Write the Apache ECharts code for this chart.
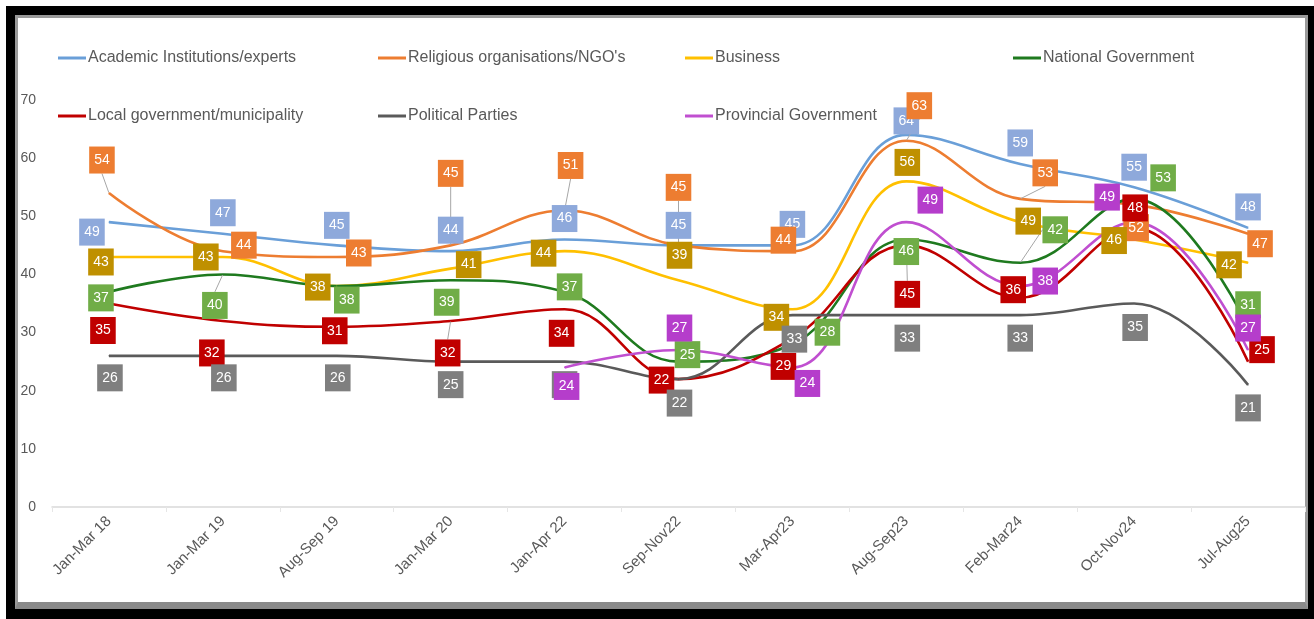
<!DOCTYPE html>
<html>
<head>
<meta charset="utf-8">
<script src="https://cdn.jsdelivr.net/npm/echarts@6/dist/echarts.min.js"></script>
<style>
  html, body { margin: 0; padding: 0; background: #ffffff; }
  #wrap { position: relative; width: 1314px; height: 619px; overflow: hidden; background: #fff; }
  #frame { position: absolute; left: 6px; top: 6px; width: 1308px; height: 613px; background: #000; }
  #panel { position: absolute; left: 15px; top: 15px; width: 1287px; height: 584px; background: #fff;
           border: 3px solid #9a9a9a; border-bottom: 7px solid #8a8a8a; box-sizing: content-box; }
  #chart { position: absolute; left: 0; top: 0; width: 1314px; height: 619px; }
</style>
</head>
<body>
<div id="wrap">
  <div id="frame"></div>
  <div id="panel"></div>
  <div id="chart"></div>
</div>
<script>
// ---------- DATA ----------
const categories = ['Jan-Mar 18', 'Jan-Mar 19', 'Aug-Sep 19', 'Jan-Mar 20', 'Jan-Apr 22', 'Sep-Nov22',
                    'Mar-Apr23', 'Aug-Sep23', 'Feb-Mar24', 'Oct-Nov24', 'Jul-Aug25'];
const seriesNames = ['Academic Institutions/experts', "Religious organisations/NGO's", 'Business',
                     'National Government', 'Local government/municipality', 'Political Parties',
                     'Provincial Government'];
const academic   = [49, 47, 45, 44, 46, 45, 45, 64, 59, 55, 48];
const religious  = [54, 44, 43, 45, 51, 45, 44, 63, 53, 52, 47];
const business   = [43, 43, 38, 41, 44, 39, 34, 56, 49, 46, 42];
const national   = [37, 40, 38, 39, 37, 25, 28, 46, 42, 53, 31];
const local      = [35, 32, 31, 32, 34, 22, 29, 45, 36, 48, 25];
const political  = [26, 26, 26, 25, 25, 22, 33, 33, 33, 35, 21];
const provincial = [null, null, null, null, 24, 27, 24, 49, 38, 49, 27];
const yTicks = { min: 0, max: 70, interval: 10 };

// ---------- STYLE / LAYOUT (kept apart from the values) ----------
const lineColors  = ['#6A9FD8', '#ED7D31', '#FFC000', '#1F7A1F', '#C00000', '#5A5A5A', '#C04FD0'];
const boxColors   = ['#8EA9DB', '#ED7D31', '#BF9000', '#70AD47', '#C00000', '#7F7F7F', '#B53DCB'];
// label displacement (px) relative to the data point, per series
const labelShift = [
  [[-17,10],[0,-21],[0,-20],[0,-21],[0,-21],[0,-20],[0,-21],[0,-14],[0,-21],[0,-20],[0,-21]],
  [[-7,-33],[21,-6],[22,-4],[0,-72],[6,-45],[0,-58],[-9,-11],[13,-35],[25,-26],[2,23],[12,10]],
  [[-8,5],[-17,0],[-19,1],[18,-4],[-21,2],[1,-25],[-16,8],[1,-19],[8,-1],[-20,1],[-19,2]],
  [[-8,6],[-8,31],[10,14],[-4,22],[5,-5],[9,-7],[35,-12],[0,12],[35,-33],[29,-21],[0,-22]],
  [[-6,27],[-11,32],[-2,4],[-3,32],[-3,24],[-17,1],[-9,28],[1,49],[-7,-8],[1,-20],[14,-12]],
  [[1,22],[1,22],[1,22],[0,23],[0,23],[1,24],[2,24],[1,23],[0,23],[1,24],[0,23]],
  [[0,0],[0,0],[0,0],[0,0],[2,19],[1,-22],[15,16],[24,-22],[25,-5],[-27,-25],[0,-22]]
];
// which labels show a leader line
const leaderLines = [
  [], [0, 3, 4, 5, 7, 8], [], [1, 8], [3, 7], [], []
];
const legendPos = [
  [58, 50], [378, 50], [685, 50], [1013, 50],
  [58, 108], [378, 108], [685, 108]
];

const values = [academic, religious, business, national, local, political, provincial];
const FONT = 'Liberation Sans, Arial, sans-serif';

const chart = echarts.init(document.getElementById('chart'), null, { renderer: 'canvas' });

const series = values.map((vals, si) => ({
  name: seriesNames[si],
  type: 'line',
  smooth: 0.4,
  symbol: 'circle',
  symbolSize: 1,
  showSymbol: true,
  connectNulls: false,
  itemStyle: { color: lineColors[si] },
  lineStyle: { color: lineColors[si], width: 2.6 },
  emphasis: { disabled: true },
  label: {
    show: true,
    position: 'inside',
    color: '#ffffff',
    fontFamily: FONT,
    fontSize: 14,
    backgroundColor: boxColors[si],
    padding: [6, 5, 6, 5],
    lineHeight: 15,
    formatter: p => (p.value == null ? '' : String(p.value))
  },
  labelLine: { show: false, lineStyle: { color: '#a6a6a6', width: 1 } },
  labelLayout: params => {
    const s = labelShift[si][params.dataIndex] || [0, 0];
    return { dx: s[0], dy: s[1] };
  },
  data: vals.map((v, di) => {
    const item = { value: v == null ? '-' : v };
    if (leaderLines[si].indexOf(di) >= 0) {
      item.labelLine = { show: true, lineStyle: { color: '#a6a6a6', width: 1 } };
    }
    return item;
  })
}));

const legends = seriesNames.map((n, i) => ({
  data: [n],
  left: legendPos[i][0],
  top: legendPos[i][1],
  orient: 'horizontal',
  icon: 'rect',
  itemWidth: 28,
  itemHeight: 3,
  itemGap: 0,
  selectedMode: false,
  padding: 0,
  textStyle: { color: '#595959', fontFamily: FONT, fontSize: 16, padding: [0, 0, 0, -3] }
}));

chart.setOption({
  animation: false,
  backgroundColor: 'transparent',
  legend: legends,
  grid: { left: 52, right: 9, top: 100, bottom: 112, containLabel: false },
  xAxis: {
    type: 'category',
    data: categories,
    boundaryGap: true,
    axisLine: { show: true, lineStyle: { color: '#d9d9d9', width: 1.5 } },
    axisTick: { show: true, length: 5, lineStyle: { color: '#e6e6e6' } },
    axisLabel: { rotate: 45, margin: 12, color: '#595959', fontFamily: FONT, fontSize: 15, interval: 0 }
  },
  yAxis: {
    type: 'value',
    min: yTicks.min,
    max: yTicks.max,
    interval: yTicks.interval,
    axisLine: { show: false },
    axisTick: { show: false },
    splitLine: { show: false },
    axisLabel: { margin: 16, color: '#595959', fontFamily: FONT, fontSize: 14 }
  },
  series: series
});
</script>
</body>
</html>
